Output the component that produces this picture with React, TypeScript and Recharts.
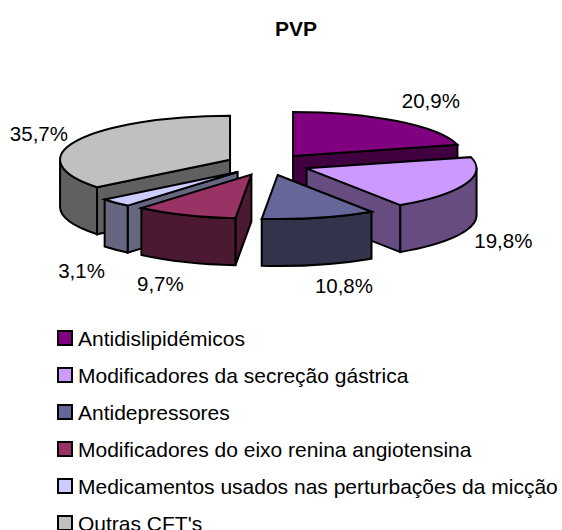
// App.tsx - exploded 3D pie (PVP) drawn through Recharts' Pie custom shapes
import { PieChart, Pie, Legend } from "recharts";

const categories = [
  "Antidislipidémicos",
  "Modificadores da secreção gástrica",
  "Antidepressores",
  "Modificadores do eixo renina angiotensina",
  "Medicamentos usados nas perturbações da micção",
  "Outras CFT's",
];
const percentages = [20.9, 19.8, 10.8, 9.7, 3.1, 35.7];
const colors = ["#800080", "#CC99FF", "#666699", "#993366", "#CCCCFF", "#C0C0C0"];
const wallColors = ["#400040", "#664C80", "#33334C", "#4C1933", "#666680", "#606060"];

// back to front, the slices overlap each other in this order
const drawOrder = [0, 5, 1, 4, 3, 2];

// label distance from the slice's rim point
const labelDx = [34, 38, 25, -25, -34, -38];
const labelDy = [-21, 56, 68, 68, 68, -7];

const TILT = 0.259; // ry / rx
const EXPLODE = 41.7;
const DEPTH = 47;
const FONT = "'Liberation Sans', Arial, sans-serif";

const data = categories.map((name, i) => ({ name, value: percentages[i] }));

const rad = (d: number) => (d * Math.PI) / 180;

// Slice angles come from recharts (counter-clockwise, y up), a is clockwise from the top
function project(props: any) {
  const { cx, cy, outerRadius, startAngle, endAngle } = props;
  const a0 = 90 - startAngle;
  const a1 = 90 - endAngle;
  const mid = (a0 + a1) / 2;
  const rx = outerRadius;
  const ry = outerRadius * TILT;
  const ox = cx + EXPLODE * Math.sin(rad(mid));
  const oy = cy - EXPLODE * TILT * Math.cos(rad(mid));
  const pt = (a: number): [number, number] => [ox + rx * Math.sin(rad(a)), oy - ry * Math.cos(rad(a))];
  return { a0, a1, mid, rx, ry, ox, oy, pt };
}

function Slice3D(props: any) {
  const { index } = props;
  const { a0, a1, rx, ry, ox, oy, pt } = project(props);
  const line = { stroke: "#000", strokeWidth: 2, strokeLinejoin: "miter" as const };
  const wall = wallColors[index];

  const radialWall = (a: number) => {
    const [x, y] = pt(a);
    return (
      <path
        d={`M${ox},${oy} L${x},${y} L${x},${y + DEPTH} L${ox},${oy + DEPTH} Z`}
        fill={wall}
        {...line}
      />
    );
  };

  // only the front half of the rim faces the viewer
  const from = Math.max(a0, 90);
  const to = Math.min(a1, 270);
  let rim = null;
  if (to > from) {
    const [x0, y0] = pt(from);
    const [x1, y1] = pt(to);
    rim = (
      <path
        d={`M${x0},${y0} A${rx},${ry} 0 0 1 ${x1},${y1} L${x1},${y1 + DEPTH} A${rx},${ry} 0 0 0 ${x0},${y0 + DEPTH} Z`}
        fill={wall}
        {...line}
      />
    );
  }

  const [sx, sy] = pt(a0);
  const [ex, ey] = pt(a1);
  const large = a1 - a0 > 180 ? 1 : 0;

  return (
    <g>
      {Math.sin(rad(a0)) < 0 && radialWall(a0)}
      {Math.sin(rad(a1)) > 0 && radialWall(a1)}
      {rim}
      <path
        d={`M${ox},${oy} L${sx},${sy} A${rx},${ry} 0 ${large} 1 ${ex},${ey} Z`}
        fill={colors[index]}
        {...line}
      />
    </g>
  );
}

function SliceLabel(props: any) {
  const { index, value } = props;
  const { mid, pt } = project(props);
  const [x, y] = pt(mid);
  return (
    <text
      x={x + labelDx[index]}
      y={y + labelDy[index]}
      textAnchor="middle"
      dominantBaseline="central"
      fontFamily={FONT}
      fontSize={20.5}
      fill="#000"
    >
      {value.toFixed(1).replace(".", ",")}%
    </text>
  );
}

function LegendList() {
  return (
    <div style={{ fontFamily: FONT, fontSize: 21, color: "#000" }}>
      {categories.map((name, i) => (
        <div key={name} style={{ display: "flex", alignItems: "center", height: 37 }}>
          <span
            style={{
              width: 12,
              height: 12,
              border: "2px solid #000",
              background: colors[i],
              marginRight: 5,
              marginLeft: -1,
              marginTop: -2,
              flex: "none",
            }}
          />
          <span style={{ whiteSpace: "nowrap" }}>{name}</span>
        </div>
      ))}
    </div>
  );
}

export default function App() {
  return (
    <div style={{ position: "absolute", left: 0, top: 0, width: 562, height: 530, overflow: "hidden" }}>
      <PieChart width={562} height={530} margin={{ top: 0, right: 0, bottom: 0, left: 0 }}>
        <text x={296} y={28} textAnchor="middle" dominantBaseline="central" fontFamily={FONT} fontSize={21} fontWeight="bold">
          PVP
        </text>
        {drawOrder.map((k) => (
          <Pie
            key={k}
            data={data}
            dataKey="value"
            cx={267.6}
            cy={164.5}
            outerRadius={170}
            startAngle={90}
            endAngle={-270}
            stroke="none"
            isAnimationActive={false}
            labelLine={false}
            shape={(p: any) => (p.index === k ? <Slice3D {...p} /> : <g />)}
            label={(p: any) => (p.index === k ? <SliceLabel {...p} /> : <g />)}
          />
        ))}
        <Legend
          content={() => <LegendList />}
          wrapperStyle={{ position: "absolute", left: 58, top: 320, width: 504, height: 222 }}
        />
      </PieChart>
    </div>
  );
}
